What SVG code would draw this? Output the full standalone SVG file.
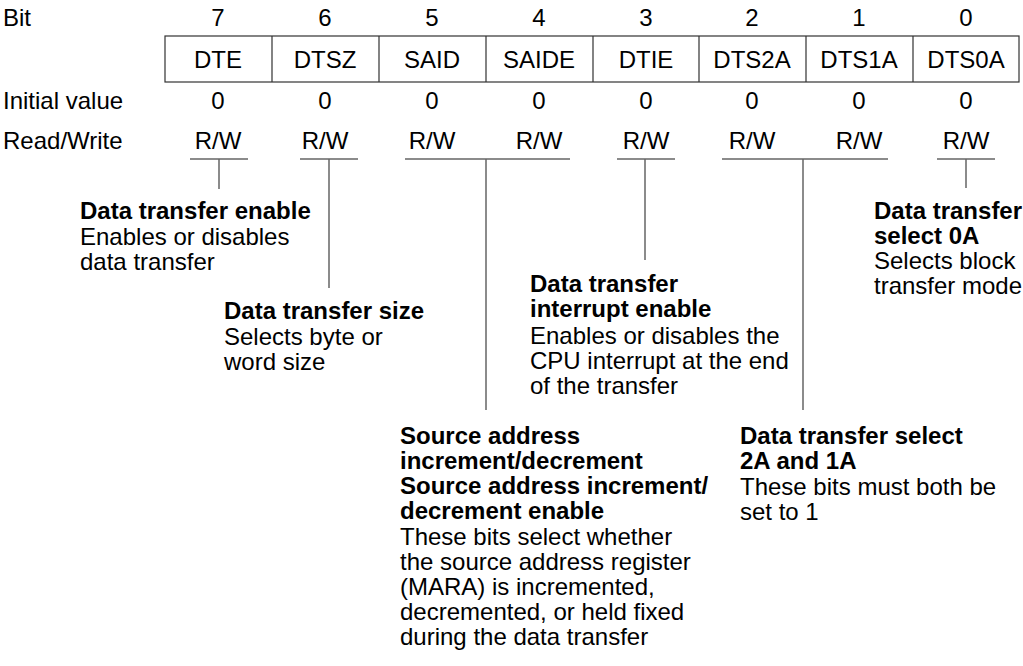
<svg xmlns="http://www.w3.org/2000/svg" width="1023" height="666" viewBox="0 0 1023 666">
<style>
text{font-family:"Liberation Sans",Arial,sans-serif;font-size:24px;fill:#000}
.c{text-anchor:middle}
.b{font-weight:bold}
.box{fill:none;stroke:#333;stroke-width:1.2}
.ln{stroke:#666;stroke-width:1.5;fill:none}
</style>
<rect width="1023" height="666" fill="#fff"/>
<g id="labels">
<text x="3" y="26">Bit</text>
<text x="3" y="109">Initial value</text>
<text x="3" y="149">Read/Write</text>
</g>
<g id="register">
<rect class="box" x="165" y="36" width="854" height="46"/>
<path class="box" d="M272 36V82M379 36V82M486 36V82M593 36V82M699 36V82M806 36V82M913 36V82"/>
<g class="c">
<text x="218" y="26">7</text><text x="325" y="26">6</text><text x="432" y="26">5</text><text x="539" y="26">4</text><text x="646" y="26">3</text><text x="752" y="26">2</text><text x="859" y="26">1</text><text x="966" y="26">0</text>
<text x="218" y="68">DTE</text><text x="325" y="68">DTSZ</text><text x="432" y="68">SAID</text><text x="539" y="68">SAIDE</text><text x="646" y="68">DTIE</text><text x="752" y="68">DTS2A</text><text x="859" y="68">DTS1A</text><text x="966" y="68">DTS0A</text>
<text x="218" y="109">0</text><text x="325" y="109">0</text><text x="432" y="109">0</text><text x="539" y="109">0</text><text x="646" y="109">0</text><text x="752" y="109">0</text><text x="859" y="109">0</text><text x="966" y="109">0</text>
<text x="218" y="149">R/W</text><text x="325" y="149">R/W</text><text x="432" y="149">R/W</text><text x="539" y="149">R/W</text><text x="646" y="149">R/W</text><text x="752" y="149">R/W</text><text x="859" y="149">R/W</text><text x="966" y="149">R/W</text>
</g>
</g>
<g id="connectors">
<path class="ln" d="M190 159H248M219 159V189"/>
<path class="ln" d="M300 159H358M329 159V288"/>
<path class="ln" d="M405 159H570M486 159V410"/>
<path class="ln" d="M617 159H675M645 159V260"/>
<path class="ln" d="M722 159H888M803 159V410"/>
<path class="ln" d="M937 159H995M966 159V188"/>
</g>
<g id="dte">
<text x="80" y="219" class="b">Data transfer enable</text>
<text x="80" y="245">Enables or disables</text>
<text x="80" y="270">data transfer</text>
</g>
<g id="dtsz">
<text x="224" y="319" class="b">Data transfer size</text>
<text x="224" y="345">Selects byte or</text>
<text x="224" y="370">word size</text>
</g>
<g id="dtie">
<text x="530" y="292" class="b">Data transfer</text>
<text x="530" y="317" class="b">interrupt enable</text>
<text x="530" y="344">Enables or disables the</text>
<text x="530" y="369">CPU interrupt at the end</text>
<text x="530" y="394">of the transfer</text>
</g>
<g id="dts0a">
<text x="874" y="219" class="b">Data transfer</text>
<text x="874" y="244" class="b">select 0A</text>
<text x="874" y="269">Selects block</text>
<text x="874" y="294">transfer mode</text>
</g>
<g id="said">
<text x="400" y="444" class="b">Source address</text>
<text x="400" y="469" class="b">increment/decrement</text>
<text x="400" y="494" class="b">Source address increment/</text>
<text x="400" y="519" class="b">decrement enable</text>
<text x="400" y="545">These bits select whether</text>
<text x="400" y="570">the source address register</text>
<text x="400" y="595">(MARA) is incremented,</text>
<text x="400" y="620">decremented, or held fixed</text>
<text x="400" y="645">during the data transfer</text>
</g>
<g id="dts21">
<text x="740" y="444" class="b">Data transfer select</text>
<text x="740" y="469" class="b">2A and 1A</text>
<text x="740" y="495">These bits must both be</text>
<text x="740" y="520">set to 1</text>
</g>
</svg>
